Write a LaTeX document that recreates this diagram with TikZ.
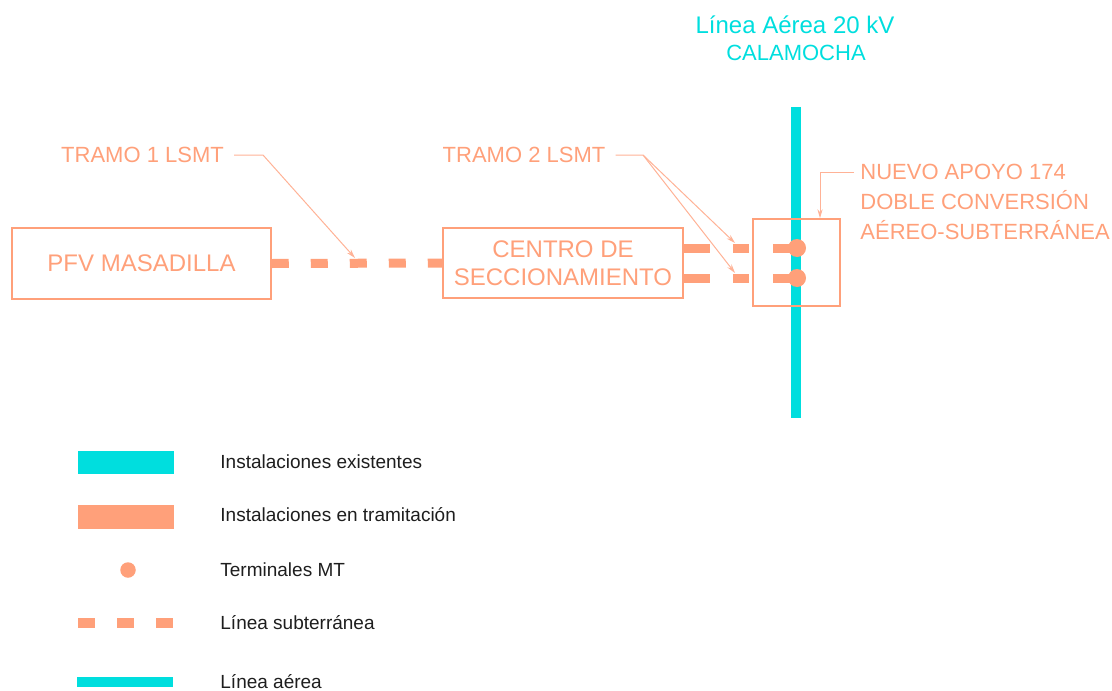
\documentclass[tikz,border=0pt]{standalone}
\usepackage{fontspec}
\setmainfont{Liberation Sans}
\usetikzlibrary{arrows.meta}
\definecolor{salmon}{RGB}{255,160,122}
\definecolor{salmonlt}{RGB}{255,178,150}
\definecolor{cian}{RGB}{0,222,222}
\definecolor{texto}{RGB}{30,30,30}
\tikzset{
  caja/.style={draw=salmon, line width=0.75pt, inner sep=0pt, align=center, text=salmon, font=\fontsize{12pt}{14pt}\selectfont},
  etiq/.style={text=salmon, inner sep=0pt, font=\fontsize{11pt}{15pt}\selectfont},
  guia/.style={draw=salmonlt, line width=0.5pt, -{Stealth[length=4.5pt,width=2.6pt]}},
  subt/.style={draw=salmon, line width=4.5pt, dash pattern=on 8.5pt off 11pt},
  term/.style={circle, fill=salmon, inner sep=0pt, minimum size=9pt},
  aerea/.style={draw=cian, line width=5pt},
  leyenda/.style={anchor=west, inner sep=0pt, text=texto, font=\fontsize{9.5pt}{11pt}\selectfont}
}

\begin{document}
\begin{tikzpicture}[x=0.5pt,y=-0.5pt]
\useasboundingbox (0,0) rectangle (1112,690);

% linea aerea existente
\draw[aerea] (796,107) -- (796,418);
\node[text=cian, inner sep=0pt, font=\fontsize{12pt}{14pt}\selectfont] (lat) at (795,25) {Línea Aérea 20 kV};
\node[text=cian, inner sep=0pt, font=\fontsize{11pt}{14pt}\selectfont] (cal) at (796,53) {CALAMOCHA};

% instalaciones
\node[caja, minimum width=129.5pt, minimum height=35.5pt] (pfv) at (141.5,263.5) {PFV MASADILLA};
\node[caja, minimum width=120pt, minimum height=35pt] (cs) at (563,263) {CENTRO DE\\SECCIONAMIENTO};
\node[draw=salmon, line width=0.75pt, minimum size=43.5pt, inner sep=0pt] (apoyo) at (796.5,262.5) {};

% lineas subterraneas
\draw[subt] (pfv.east) -- (cs.west);
\coordinate (ca) at (797,248);
\coordinate (cb) at (797,278);
\draw[subt, dash pattern=on 13pt off 11.5pt on 8pt off 12pt on 13pt] (cs.east |- ca) -- (ca);
\draw[subt, dash pattern=on 13pt off 11.5pt on 8pt off 12pt on 13pt] (cs.east |- cb) -- (cb);
\node[term] (ta) at (ca) {};
\node[term] (tb) at (cb) {};

% etiquetas
\node[etiq] (t1) at (142.5,155) {TRAMO 1 LSMT};
\coordinate (t1k) at (263,155);
\coordinate (t1p) at (355,258);
\draw[guia] ([xshift=5pt]t1.east) -- (t1k) -- (t1p);

\node[etiq] (t2) at (524,155) {TRAMO 2 LSMT};
\coordinate (t2k) at (643,155);
\coordinate (t2a) at (735,243);
\coordinate (t2b) at (735,273);
\draw[guia] ([xshift=5pt]t2.east) -- (t2k) -- (t2a);
\draw[guia] (t2k) -- (t2b);

\node[etiq, align=left, anchor=west] (ap) at (860,202) {NUEVO APOYO 174\\DOBLE CONVERSIÓN\\AÉREO-SUBTERRÁNEA};
\coordinate (apk) at (820,172);
\draw[guia] ([xshift=-3pt]ap.west |- apk) -- (apk) -- (apk |- apoyo.north);

% leyenda
\fill[cian] (78,451) rectangle (174,474);
\fill[salmon] (78,505) rectangle (174,529);
\fill[salmon] (128,570) circle[radius=7.75];
\draw[subt, line width=5pt] (78,623) -- (174,623);
\draw[aerea] (77,682) -- (173,682);
\foreach \n/\y/\txt in {1/462/Instalaciones existentes, 2/515/Instalaciones en tramitación, 3/570/Terminales MT, 4/623/Línea subterránea, 5/682/Línea aérea}
  \node[leyenda] (ley\n) at (220,\y) {\txt};
\end{tikzpicture}
\end{document}
